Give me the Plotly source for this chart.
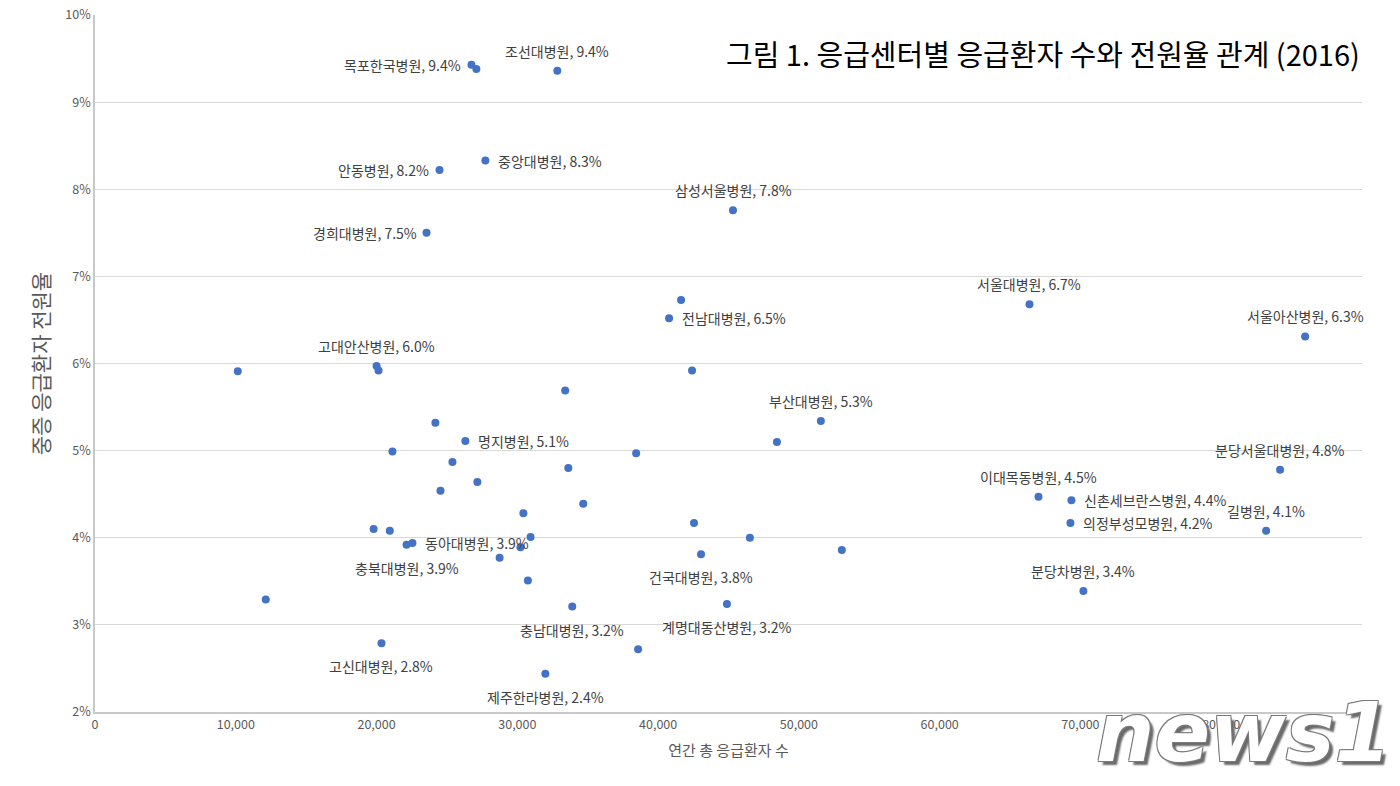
import plotly.graph_objects as go

# 응급센터별 연간 총 응급환자 수 (x) 와 중증 응급환자 전원율 % (y)
hospitals = [
    "목포한국병원", "", "조선대병원", "중앙대병원", "안동병원", "삼성서울병원", "경희대병원",
    "", "전남대병원", "서울대병원", "서울아산병원", "고대안산병원", "", "", "",
    "부산대병원", "", "명지병원", "", "", "", "", "", "", "", "", "",
    "분당서울대병원", "이대목동병원", "신촌세브란스병원", "의정부성모병원", "길병원",
    "", "", "", "", "충북대병원", "동아대병원", "", "", "", "",
    "건국대병원", "", "", "분당차병원", "계명대동산병원", "충남대병원", "", "",
    "고신대병원", "제주한라병원",
]
patients = [
    26740, 27090, 32840, 27730, 24470, 45320, 23550,
    41630, 40780, 66380, 85960, 20000, 20140, 10140, 42410,
    51560, 33400, 26310, 24180, 21130, 38440, 48440, 25390, 33620, 27160, 24540, 34680,
    84180, 67020, 69360, 69290, 83190,
    30430, 42550, 46520, 19790, 22130, 22550, 20940, 30940, 30220, 28740,
    43050, 53050, 30750, 70210, 44890, 33900, 12130, 38580,
    20350, 31990,
]
transfer_rate = [
    9.43, 9.38, 9.36, 8.33, 8.22, 7.76, 7.50,
    6.73, 6.52, 6.68, 6.31, 5.97, 5.92, 5.91, 5.92,
    5.34, 5.69, 5.11, 5.32, 4.99, 4.97, 5.10, 4.87, 4.80, 4.64, 4.54, 4.39,
    4.78, 4.47, 4.43, 4.17, 4.08,
    4.28, 4.17, 4.00, 4.10, 3.92, 3.94, 4.08, 4.01, 3.89, 3.77,
    3.81, 3.86, 3.51, 3.39, 3.24, 3.21, 3.29, 2.72,
    2.79, 2.44,
]
x_ticks = [0, 10000, 20000, 30000, 40000, 50000, 60000, 70000, 80000]

# 라벨 위치 (위/아래/왼쪽/오른쪽)
label_side = {
    "목포한국병원": "left", "조선대병원": "above", "중앙대병원": "right", "안동병원": "left",
    "삼성서울병원": "above", "경희대병원": "left", "전남대병원": "right", "서울대병원": "above",
    "서울아산병원": "above", "고대안산병원": "above", "부산대병원": "above", "명지병원": "right",
    "분당서울대병원": "above", "이대목동병원": "above", "신촌세브란스병원": "right",
    "의정부성모병원": "right", "길병원": "above", "충북대병원": "below", "동아대병원": "right",
    "건국대병원": "below", "분당차병원": "above", "계명대동산병원": "below",
    "충남대병원": "below", "고신대병원": "below", "제주한라병원": "below",
}

font_kr = "Noto Sans CJK KR"

fig = go.Figure()
fig.add_trace(go.Scatter(
    x=patients, y=transfer_rate, mode="markers",
    marker=dict(color="#4472C4", size=8),
    hovertext=hospitals, showlegend=False,
))

annotations = []
for name, xv, yv in zip(hospitals, patients, transfer_rate):
    if not name:
        continue
    side = label_side[name]
    a = dict(x=xv, y=yv, text=f"{name}, {yv:.1f}%", showarrow=False,
             font=dict(family=font_kr, size=14, color="#404040"))
    if side == "above":
        a.update(yshift=20)
    elif side == "below":
        a.update(yshift=-23)
    elif side == "left":
        a.update(xanchor="right", xshift=-8)
    else:
        a.update(xanchor="left", xshift=11)
    annotations.append(a)

# 제목
annotations.append(dict(
    text="그림 1. 응급센터별 응급환자 수와 전원율 관계 (2016)",
    xref="paper", yref="paper", x=1.0, y=0.946, xanchor="right", yanchor="middle",
    showarrow=False, font=dict(family=font_kr, size=29, color="#000000"),
))

# news1 워터마크
annotations.append(dict(
    text="<b><i>news1</i></b>", xref="paper", yref="paper", x=1.025, y=-0.03,
    xanchor="right", yanchor="middle", showarrow=False,
    font=dict(family="DejaVu Sans", size=82, color="#ffffff",
              shadow="-1px -1px 0 #7a7a7a, 1px -1px 0 #7a7a7a, -1px 1px 0 #7a7a7a, "
                     "1px 1px 0 #7a7a7a, 4px 4px 2px #6a6a6a"),
))

fig.update_layout(
    width=1400, height=786,
    margin=dict(l=95, r=38, t=15, b=74),
    paper_bgcolor="white", plot_bgcolor="white",
    annotations=annotations,
    xaxis=dict(
        range=[0, 90000], tickvals=x_ticks, tickformat=",",
        showgrid=False, zeroline=False, automargin=False, ticklabeloverflow="allow",
        showline=True, linecolor="#c8c8c8", linewidth=1.5, ticks="",
        tickfont=dict(family=font_kr, size=12.5, color="#595959"),
        title=dict(text="연간 총 응급환자 수", standoff=14,
                   font=dict(family=font_kr, size=15, color="#595959")),
    ),
    yaxis=dict(
        range=[2, 10], dtick=1, ticksuffix="%",
        showgrid=True, gridcolor="#d9d9d9", gridwidth=1.2, zeroline=False,
        automargin=False, ticklabeloverflow="allow",
        showline=True, linecolor="#c8c8c8", linewidth=1.5, ticks="",
        tickfont=dict(family=font_kr, size=12.5, color="#595959"),
        title=dict(text="중증 응급환자 전원율", standoff=10,
                   font=dict(family=font_kr, size=21, color="#595959")),
    ),
)

# 페이지 기본 여백 제거, 모드바 숨김
fig.write_html("out.html", config={"displayModeBar": False},
               post_script="document.body.style.margin='0';")
